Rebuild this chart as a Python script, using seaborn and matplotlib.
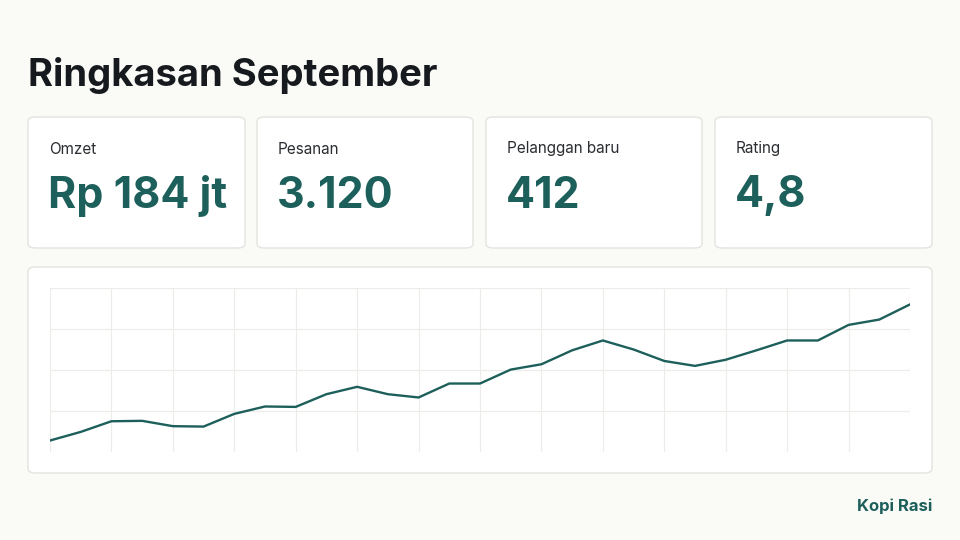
import matplotlib
matplotlib.use("Agg")
import matplotlib.pyplot as plt
from matplotlib.patches import FancyBboxPatch
import seaborn as sns
import pandas as pd

days = list(range(1, 30))
omzet_harian = [0.28, 0.49, 0.75, 0.76, 0.63, 0.62, 0.93, 1.11, 1.10, 1.41, 1.59, 1.41, 1.33, 1.67, 1.67,
                2.01, 2.14, 2.48, 2.72, 2.50, 2.22, 2.10, 2.25, 2.48, 2.72, 2.72, 3.10, 3.23, 3.60]
kpi_labels = ["Omzet", "Pesanan", "Pelanggan baru", "Rating"]
kpi_values = ["Rp 184 jt", "3.120", "412", "4,8"]

sns.set_theme(style="white")
plt.rcParams['font.family'] = ['Inter', 'DejaVu Sans']

BG = "#FAFAF7"
TEAL = "#1D5F5B"
W, H = 960, 540
fig = plt.figure(figsize=(9.6, 5.4), dpi=100, facecolor=BG)

def card(x0, y0, x1, y1):
    p = FancyBboxPatch((x0 / W, 1 - y1 / H), (x1 - x0) / W, (y1 - y0) / H,
                       boxstyle="round,pad=0,rounding_size=0.008", transform=fig.transFigure,
                       facecolor="white", edgecolor="#E3E3DF", linewidth=1.0, zorder=-1)
    fig.patches.append(p)

fig.text(28 / W, 1 - 76 / H, "Ringkasan September", fontsize=27.5, fontweight="bold",
         color="#16191D", va="center", ha="left")

cards_x = [(28, 245), (257, 473), (486, 702), (715, 932)]
for (x0, x1), lab, val in zip(cards_x, kpi_labels, kpi_values):
    card(x0, 117, x1, 248)
    fig.text((x0 + 21) / W, 1 - 149 / H, lab, fontsize=11, color="#2A2D31", va="center", ha="left")
    fig.text((x0 + 20) / W, 1 - 196 / H, val, fontsize=31, fontweight="bold", color=TEAL,
             va="center", ha="left")

card(28, 267, 932, 473)

ax = fig.add_axes([50 / W, 1 - 452 / H, 860 / W, 164 / H])
ax.set_zorder(5)
ax.set_facecolor("white")
df = pd.DataFrame({"hari": days, "omzet": omzet_harian})
sns.lineplot(data=df, x="hari", y="omzet", ax=ax, color=TEAL, linewidth=1.7)
ax.set_xlim(1, 29)
ax.set_ylim(0, 4)
ax.set_xticks(range(1, 30, 2))
ax.set_yticks(range(0, 5))
ax.grid(True, color="#ECECE8", linewidth=0.8)
ax.tick_params(left=False, bottom=False, labelleft=False, labelbottom=False)
ax.set_xlabel("")
ax.set_ylabel("")
for s in ax.spines.values():
    s.set_visible(False)

fig.text(932 / W, 1 - 506 / H, "Kopi Rasi", fontsize=12, fontweight="bold", color=TEAL,
         va="center", ha="right")

fig.savefig("out.png", dpi=100, facecolor=BG)
